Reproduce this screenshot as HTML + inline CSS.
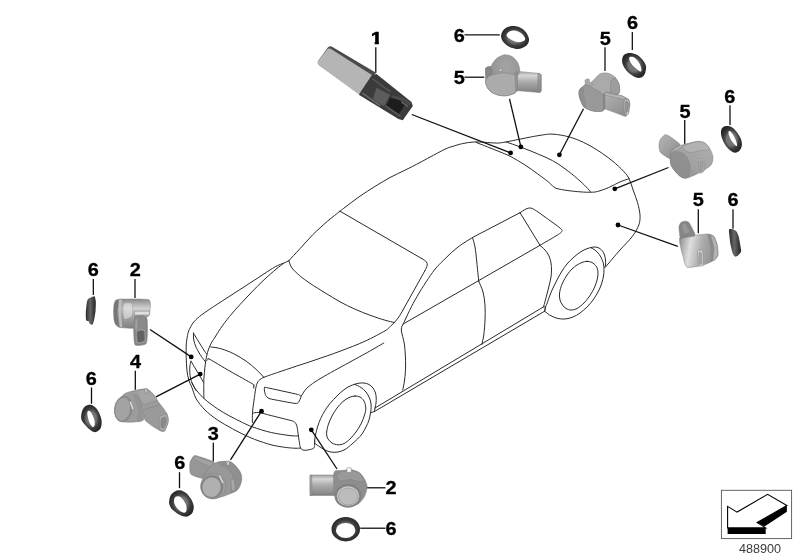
<!DOCTYPE html>
<html lang="en">
<head>
<meta charset="utf-8">
<title>Park Distance Control sensors - diagram 488900</title>
<style>
html,body{margin:0;padding:0;background:#fff;}
body{width:800px;height:560px;overflow:hidden;font-family:"Liberation Sans",sans-serif;}
svg{display:block;}
.car path,.car ellipse{fill:none;stroke:#2a2a2a;stroke-width:1;stroke-linecap:round;stroke-linejoin:round;}
.lead line{stroke:#111;stroke-width:1.3;stroke-linecap:butt;}
.lead circle{fill:#000;}
.num text{font-family:"Liberation Sans",sans-serif;font-weight:bold;font-size:18.6px;fill:#000;stroke:#000;stroke-width:0.3px;text-anchor:middle;}
.code{font-family:"Liberation Sans",sans-serif;font-size:12.6px;fill:#3a3a3a;text-anchor:middle;}
</style>
</head>
<body>
<svg width="800" height="560" viewBox="0 0 800 560">
<defs>
<clipPath id="c1"><path d="M-6 -16H2.1V1H-1.75V-8H-6Z"/></clipPath>
<filter id="softT" x="0" y="0" width="800" height="560" filterUnits="userSpaceOnUse"><feGaussianBlur stdDeviation="0.35"/></filter>
<filter id="softL" x="0" y="0" width="800" height="560" filterUnits="userSpaceOnUse"><feGaussianBlur stdDeviation="0.25"/></filter>
<filter id="soft" x="-10%" y="-10%" width="120%" height="120%"><feGaussianBlur stdDeviation="0.45"/></filter>
<filter id="soft2" x="-10%" y="-10%" width="120%" height="120%"><feGaussianBlur stdDeviation="0.55"/></filter>
<linearGradient id="gConnH" x1="0" y1="0" x2="0" y2="1"><stop offset="0" stop-color="#a0a0a0"/><stop offset="0.2" stop-color="#d6d6d6"/><stop offset="0.5" stop-color="#ababab"/><stop offset="0.85" stop-color="#8e8e8e"/><stop offset="1" stop-color="#7c7c7c"/></linearGradient>
<linearGradient id="gBodyH" x1="0" y1="0" x2="0" y2="1"><stop offset="0" stop-color="#8a8a8a"/><stop offset="0.12" stop-color="#a5a5a5"/><stop offset="0.32" stop-color="#d2d2d2"/><stop offset="0.6" stop-color="#a4a4a4"/><stop offset="1" stop-color="#808080"/></linearGradient>
<linearGradient id="gDiag" x1="0" y1="0" x2="1" y2="1"><stop offset="0" stop-color="#b4b4b4"/><stop offset="0.5" stop-color="#a0a0a0"/><stop offset="1" stop-color="#888"/></linearGradient>
<linearGradient id="gDiag2" x1="1" y1="0" x2="0" y2="1"><stop offset="0" stop-color="#b0b0b0"/><stop offset="0.55" stop-color="#a2a2a2"/><stop offset="1" stop-color="#858585"/></linearGradient>
<radialGradient id="gDome" cx="0.6" cy="0.3" r="0.75"><stop offset="0" stop-color="#a4a4a4"/><stop offset="1" stop-color="#8b8b8b"/></radialGradient>
<linearGradient id="g5d" x1="0" y1="0" x2="1" y2="0.15"><stop offset="0" stop-color="#7c7c7c"/><stop offset="0.1" stop-color="#a6a6a6"/><stop offset="0.32" stop-color="#dedede"/><stop offset="0.6" stop-color="#aeaeae"/><stop offset="0.85" stop-color="#999"/><stop offset="1" stop-color="#a5a5a5"/></linearGradient>
<radialGradient id="gRing" cx="0.5" cy="0.5" r="0.6"><stop offset="0.38" stop-color="#747474"/><stop offset="0.6" stop-color="#3e3e3e"/><stop offset="0.8" stop-color="#2b2b2b"/><stop offset="1" stop-color="#222"/></radialGradient>
<linearGradient id="gRingS" x1="0" y1="0" x2="1" y2="0"><stop offset="0" stop-color="#2c2c2c"/><stop offset="0.45" stop-color="#666"/><stop offset="0.8" stop-color="#3a3a3a"/><stop offset="1" stop-color="#2a2a2a"/></linearGradient>

</defs>
<rect width="800" height="560" fill="#fff"/>
<g class="car" filter="url(#softL)">
<path d="M288.8 260.7C290.6 258.7 296.0 253.0 300.0 248.7C304.0 244.4 307.9 239.6 312.5 235.0C317.1 230.4 322.9 225.2 327.5 221.2C332.1 217.3 337.1 213.6 340.0 211.2C342.9 208.9 341.7 209.8 345.0 207.3C348.3 204.8 355.0 199.7 360.0 196.2C365.0 192.7 370.0 189.5 375.0 186.4C380.0 183.3 385.0 180.2 390.0 177.5C395.0 174.8 400.0 172.7 405.0 170.2C410.0 167.7 415.8 164.7 420.0 162.5C424.2 160.3 425.8 159.3 430.0 157.1C434.2 154.9 441.3 150.9 445.0 149.2C448.7 147.4 449.1 147.5 452.0 146.6C454.9 145.7 458.7 144.4 462.5 143.6C466.3 142.8 470.8 142.1 475.0 141.9C479.2 141.7 483.8 142.3 487.5 142.5C491.2 142.7 494.4 143.2 497.5 143.1C500.6 143.0 502.7 142.5 506.2 141.9C509.8 141.3 514.6 140.2 518.8 139.4C522.9 138.6 527.1 137.7 531.2 136.9C535.4 136.1 540.6 135.2 543.8 134.8C546.9 134.3 547.5 134.1 550.0 134.1C552.5 134.1 555.2 134.2 558.8 134.8C562.3 135.3 567.1 136.2 571.2 137.5C575.4 138.8 579.6 140.5 583.8 142.5C587.9 144.5 592.1 146.8 596.2 149.4C600.4 152.0 604.6 154.9 608.8 158.1C612.9 161.3 617.9 165.4 621.2 168.8C624.6 172.1 626.8 174.6 628.8 178.1C630.7 181.6 631.6 185.9 633.1 190.0C634.6 194.1 636.4 198.3 637.5 202.5C638.6 206.7 639.8 211.2 640.0 215.0C640.2 218.8 640.0 221.5 638.8 225.0C637.5 228.5 635.6 232.1 632.5 236.2C629.4 240.4 624.5 244.9 620.0 250.0C615.5 255.1 607.9 264.2 605.5 267.0"/>
<path d="M476.2 142.5C478.1 143.2 483.5 145.3 487.5 146.9C491.5 148.5 496.2 150.3 500.0 151.9C503.8 153.5 505.8 154.1 510.0 156.2C514.2 158.4 520.4 162.1 525.0 165.0C529.6 167.9 533.8 171.0 537.5 173.8C541.2 176.5 544.8 179.1 547.5 181.2C550.2 183.4 551.9 185.6 553.8 186.9C555.6 188.2 555.8 188.3 558.8 189.0C561.7 189.7 567.1 190.5 571.2 191.0C575.4 191.5 580.5 191.9 583.8 192.1C587.0 192.3 588.3 192.3 590.6 192.2C592.9 192.2 594.5 192.3 597.5 191.5C600.5 190.7 605.0 189.1 608.8 187.5C612.5 185.9 616.6 183.4 620.0 181.9C623.4 180.4 627.5 179.3 629.0 178.8"/>
<path d="M506.2 142.1C507.7 142.6 511.9 143.9 515.0 145.0C518.1 146.1 521.2 147.3 525.0 148.8C528.8 150.2 532.9 151.8 537.5 153.8C542.1 155.7 547.9 158.1 552.5 160.6C557.1 163.1 560.8 165.7 565.0 168.8C569.2 171.8 574.0 175.7 577.5 178.8C581.0 181.8 584.1 184.7 586.2 186.9C588.4 189.1 589.9 191.2 590.6 192.0"/>
<path d="M340.0 211.2L423.0 259.3"/>
<path d="M423.0 259.3C423.6 259.8 425.8 261.0 426.5 262.0C427.2 263.0 427.4 264.1 427.2 265.5C426.9 266.9 425.4 269.7 425.0 270.5"/>
<path d="M425.0 270.5L403.0 310.0"/>
<path d="M288.8 260.7C289.3 261.9 290.2 265.5 292.0 268.0C293.8 270.5 296.5 272.9 299.5 275.5C302.5 278.1 305.8 280.4 310.0 283.3C314.2 286.2 320.0 289.7 325.0 292.8C330.0 295.8 335.0 299.0 340.0 301.8C345.0 304.5 350.0 307.0 355.0 309.2C360.0 311.5 365.0 313.4 370.0 315.2C375.0 317.1 380.9 319.0 385.0 320.2C389.1 321.4 392.8 322.1 394.3 322.5"/>
<path d="M403.0 310.0C402.3 311.2 400.2 314.9 398.8 317.0C397.4 319.1 396.0 320.7 394.5 322.3C393.0 323.9 391.6 325.4 390.0 326.8C388.4 328.2 389.2 328.4 385.0 330.8C380.8 333.2 372.5 337.8 365.0 341.2C357.5 344.7 348.3 348.1 340.0 351.2C331.7 354.4 322.3 357.5 315.0 360.0C307.7 362.5 302.5 364.2 296.2 366.2C290.0 368.3 282.9 370.7 277.5 372.5C272.1 374.3 266.0 376.5 263.8 377.3"/>
<path d="M403.2 324.0C405.2 320.0 410.1 308.6 415.0 300.0C419.9 291.4 427.5 279.4 432.5 272.5C437.5 265.6 440.8 263.0 445.0 258.8C449.2 254.5 453.4 250.5 458.0 247.0C462.6 243.5 470.1 239.1 472.5 237.5"/>
<path d="M472.5 237.5L520.0 212.7"/>
<path d="M520.0 212.7C521.0 212.1 524.3 209.8 526.0 209.0C527.7 208.2 528.6 207.9 530.0 208.0C531.4 208.1 532.0 208.2 534.5 209.7C537.0 211.2 540.8 213.9 545.0 217.0C549.2 220.1 557.2 225.6 560.0 228.0C562.8 230.4 562.2 230.1 561.8 231.3C561.4 232.5 561.1 232.7 557.5 235.0C553.9 237.3 542.9 243.6 540.0 245.3"/>
<path d="M403.2 324.0L540.0 245.3"/>
<path d="M472.5 237.5C472.9 239.1 474.3 242.9 475.0 247.0C475.7 251.1 476.2 256.2 476.8 262.0C477.4 267.8 478.4 278.3 478.8 281.6"/>
<path d="M520.0 212.7L540.0 245.3"/>
<path d="M403.2 324.0C402.9 325.0 401.1 326.5 401.3 330.0C401.5 333.5 403.8 339.2 404.5 345.0C405.2 350.8 405.6 359.2 405.6 365.0C405.6 370.8 405.1 375.8 404.6 380.0C404.1 384.2 403.0 388.3 402.7 390.0"/>
<path d="M478.8 281.6C479.5 283.3 482.0 288.1 483.0 292.0C484.0 295.9 484.7 300.3 485.0 305.0C485.3 309.7 485.2 315.0 485.0 320.0C484.8 325.0 484.3 330.9 483.8 335.0C483.2 339.1 482.2 342.9 481.9 344.5"/>
<path d="M539.7 245.2C540.6 246.0 543.5 248.2 545.0 250.0C546.5 251.8 548.0 253.8 549.0 256.0C550.0 258.2 550.6 260.7 551.0 263.0C551.4 265.3 551.5 267.7 551.5 270.0C551.5 272.3 551.4 274.3 551.0 277.0C550.6 279.7 549.7 283.2 549.0 286.0C548.3 288.8 547.7 291.4 547.0 294.0C546.3 296.6 545.6 299.4 545.0 301.5C544.4 303.6 543.8 305.9 543.6 306.8"/>
<path d="M375.0 408.0L543.6 306.8"/>
<path d="M374.5 411.5L544.6 311.2"/>
<path d="M375.0 408.0L374.5 411.5"/>
<path d="M543.6 306.8L545.6 307.0L544.6 311.2"/>
<path d="M383.8 343.0C380.6 344.8 372.3 349.7 365.0 353.8C357.7 357.8 346.2 364.1 340.0 367.5C333.8 370.9 331.7 372.0 327.5 374.4C323.3 376.8 318.5 379.5 315.0 381.9C311.5 384.3 308.5 386.4 306.2 388.8C304.0 391.1 302.1 395.0 301.2 396.2"/>
<path d="M288.8 260.7C287.9 261.1 285.4 262.4 283.5 263.2C281.6 264.0 279.8 264.5 277.5 265.6C275.2 266.7 273.8 267.6 270.0 270.0C266.2 272.4 260.0 276.5 255.0 279.8C250.0 283.0 245.0 286.2 240.0 289.5C235.0 292.8 230.0 296.0 225.0 299.2C220.0 302.5 214.2 306.1 210.0 309.0C205.8 311.9 202.3 314.2 199.5 316.5C196.7 318.8 194.7 320.8 193.0 323.0C191.3 325.2 190.2 327.4 189.3 329.5C188.4 331.6 188.0 332.9 187.5 335.5C187.0 338.1 186.5 341.3 186.2 345.0C186.0 348.7 186.1 353.3 186.2 357.5C186.4 361.7 186.5 366.2 186.9 370.0C187.3 373.8 187.9 377.1 188.8 380.0C189.6 382.9 190.7 384.4 191.9 387.5C193.2 390.6 194.1 395.0 196.2 398.8C198.4 402.5 201.5 406.5 205.0 410.0C208.5 413.5 212.9 416.9 217.5 420.0C222.1 423.1 227.1 425.8 232.5 428.8C237.9 431.7 244.2 435.0 250.0 437.5C255.8 440.0 262.5 442.2 267.5 443.8C272.5 445.3 275.8 445.9 280.0 446.6C284.2 447.3 289.1 447.9 292.5 448.1C295.9 448.4 299.2 448.1 300.6 448.1"/>
<path d="M283.5 263.5C282.2 264.5 279.2 266.5 276.0 269.2C272.8 272.0 268.0 276.0 264.0 279.8C260.0 283.5 256.0 287.6 252.0 291.8C248.0 295.9 243.8 300.4 240.0 304.5C236.2 308.6 232.8 312.5 229.5 316.5C226.2 320.5 223.0 324.9 220.5 328.5C218.0 332.1 216.1 335.5 214.5 338.0C212.9 340.5 212.2 341.1 211.0 343.5C209.8 345.9 208.4 349.4 207.5 352.5C206.6 355.6 206.1 358.6 205.6 361.9C205.1 365.2 204.7 369.1 204.4 372.5C204.1 375.9 203.8 378.2 203.8 382.5C203.7 386.8 203.9 395.5 203.9 398.1"/>
<path d="M210.6 346.9C212.4 347.2 217.4 347.6 221.2 348.8C225.1 349.9 229.6 351.7 233.8 353.8C237.9 355.8 242.5 358.6 246.2 361.2C250.0 363.9 253.3 366.7 256.2 369.4C259.2 372.1 262.5 376.0 263.8 377.3"/>
<path d="M206.8 360.3C207.1 360.1 207.8 359.5 208.3 359.3C208.8 359.1 206.4 357.4 210.0 359.4C213.6 361.4 222.9 367.2 230.0 371.2C237.1 375.3 248.6 381.5 252.5 383.9C256.4 386.3 253.4 384.8 253.6 385.5C253.8 386.2 253.7 387.8 253.8 388.2"/>
<path d="M263.8 377.3C262.9 377.9 260.0 379.1 258.8 380.6C257.5 382.1 257.0 383.4 256.2 386.2C255.5 389.1 255.0 393.1 254.4 397.5C253.8 401.9 252.8 408.3 252.5 412.5C252.2 416.7 252.4 420.8 252.4 422.5"/>
<path d="M264.6 387.6C264.8 387.4 263.2 386.9 266.5 387.6C269.8 388.3 294.1 393.5 297.5 394.4C300.9 395.3 300.8 396.1 300.9 396.9C301.0 397.6 299.3 401.2 298.8 401.9C298.2 402.5 297.9 403.7 295.0 403.4C292.1 403.1 272.9 399.5 270.0 398.8C267.1 398.0 266.4 396.4 265.8 395.5C265.2 394.6 264.4 390.8 264.3 390.0C264.2 389.2 264.4 387.8 264.6 387.6Z"/>
<path d="M193.5 333.1C194.4 334.6 197.0 339.1 198.8 341.9C200.5 344.7 202.5 348.0 203.8 350.0C205.0 352.0 206.0 353.1 206.5 353.8"/>
<path d="M193.5 333.1C193.5 334.2 193.3 337.6 193.8 340.0C194.2 342.4 195.0 344.8 196.2 347.5C197.5 350.2 199.7 353.9 201.2 356.2C202.8 358.6 204.9 361.0 205.6 361.9"/>
<path d="M191.0 361.2C191.9 362.7 194.8 367.5 196.2 370.0C197.8 372.5 198.8 374.2 200.0 376.2C201.2 378.3 202.8 381.2 203.4 382.2"/>
<path d="M191.0 361.2C190.8 362.0 190.1 364.1 189.9 366.0C189.7 367.9 189.6 370.4 189.8 372.5C189.9 374.6 190.1 376.8 190.6 378.8C191.1 380.7 191.6 382.0 192.5 384.0C193.4 386.0 195.4 389.4 196.0 390.5"/>
<path d="M191.9 382.5C192.6 383.8 194.1 387.2 196.2 390.0C198.4 392.8 201.5 396.3 205.0 399.4C208.5 402.5 213.3 405.9 217.5 408.8C221.7 411.6 225.8 414.0 230.0 416.2C234.2 418.5 238.8 420.7 242.5 422.5C246.2 424.3 247.7 425.2 252.5 426.9C257.3 428.6 265.0 431.1 271.2 432.5C277.5 433.9 285.5 435.0 290.0 435.6C294.5 436.2 296.9 435.8 298.3 435.9"/>
<path d="M252.5 413.2C253.5 413.1 255.6 412.1 258.8 412.5C261.9 412.9 265.8 414.2 271.2 415.6C276.7 417.0 287.3 419.5 291.2 420.6C295.2 421.8 294.1 421.6 295.0 422.5C295.9 423.4 296.4 424.4 296.9 426.2C297.4 428.1 297.7 431.0 298.1 433.8C298.5 436.5 299.0 440.1 299.4 442.5C299.8 444.9 299.9 446.8 300.6 448.1C301.3 449.4 302.4 449.9 303.8 450.2C305.1 450.5 307.1 450.1 308.8 449.8C310.4 449.5 312.8 449.0 313.8 448.1C314.7 447.2 314.4 445.7 314.6 444.5C314.8 443.3 314.7 441.6 314.8 441.0"/>
<path d="M314.5 444.0C314.5 443.3 314.5 441.7 314.7 440.0C314.9 438.3 315.2 436.2 315.7 434.0C316.2 431.8 316.7 429.6 317.5 427.0C318.3 424.4 319.4 421.2 320.7 418.5C321.9 415.8 323.4 413.0 325.0 410.5C326.6 408.0 328.0 405.9 330.0 403.5C332.0 401.1 334.8 398.2 337.0 396.0C339.2 393.8 341.0 392.1 343.0 390.5C345.0 388.9 347.0 387.6 349.0 386.5C351.0 385.4 353.3 384.8 355.0 384.2C356.7 383.6 357.5 383.4 359.0 383.2C360.5 383.0 362.3 382.8 364.0 383.0C365.7 383.2 367.5 383.7 369.0 384.5C370.5 385.3 371.9 386.6 373.0 388.0C374.1 389.4 375.0 391.3 375.5 393.0C376.0 394.7 376.1 396.3 376.2 398.0C376.3 399.7 376.2 401.3 376.0 403.0C375.8 404.7 375.2 407.2 375.0 408.0"/>
<path d="M355.0 384.4C356.0 384.9 359.2 386.2 361.0 387.5C362.8 388.8 364.6 390.2 366.0 392.0C367.4 393.8 368.7 396.0 369.5 398.0C370.3 400.0 370.8 402.0 371.0 404.0C371.2 406.0 371.1 408.3 371.0 410.0C370.9 411.7 370.6 412.3 370.3 414.0C370.0 415.7 369.7 417.8 369.0 420.0C368.3 422.2 367.2 424.7 366.0 427.0C364.8 429.3 363.4 432.0 362.0 434.0C360.6 436.0 359.2 437.3 357.5 439.0C355.8 440.7 354.1 442.2 352.0 444.0C349.9 445.8 347.3 448.2 345.0 449.5C342.7 450.8 340.2 451.6 338.0 452.0C335.8 452.4 334.0 452.4 332.0 452.2C330.0 451.9 328.0 451.4 326.0 450.5C324.0 449.6 321.8 448.2 320.0 447.0C318.2 445.8 315.8 444.1 315.0 443.5"/>
<path d="M355.0 396.0C353.2 396.1 351.0 396.6 349.0 397.5C347.0 398.4 345.0 399.8 343.0 401.5C341.0 403.2 338.8 405.6 337.0 408.0C335.2 410.4 333.4 413.3 332.0 416.0C330.6 418.7 329.4 421.5 328.5 424.0C327.6 426.5 327.1 429.2 326.8 431.0C326.5 432.8 326.5 433.7 326.7 435.0C326.9 436.3 327.1 437.7 328.0 439.0C328.9 440.3 330.3 442.0 332.0 443.0C333.7 444.0 336.0 444.7 338.0 444.8C340.0 444.9 342.0 444.5 344.0 443.5C346.0 442.5 348.0 440.9 350.0 439.0C352.0 437.1 354.2 434.5 356.0 432.0C357.8 429.5 359.6 426.8 361.0 424.0C362.4 421.2 363.7 417.7 364.5 415.0C365.3 412.3 365.9 410.3 365.8 408.0C365.7 405.7 365.0 402.8 364.0 401.0C363.0 399.2 361.5 397.8 360.0 397.0C358.5 396.2 356.8 395.9 355.0 396.0Z"/>
<path d="M371.0 412.7L374.5 411.5"/>
<path d="M544.6 311.2C544.8 310.5 545.2 308.4 545.6 307.0C546.0 305.6 546.5 305.0 547.2 303.0C547.9 301.0 549.0 297.7 550.0 295.0C551.0 292.3 552.2 289.7 553.5 287.0C554.8 284.3 556.1 281.7 557.5 279.0C558.9 276.3 560.4 273.5 562.0 271.0C563.6 268.5 565.2 266.2 567.0 264.0C568.8 261.8 571.0 259.8 573.0 258.0C575.0 256.2 577.0 254.4 579.0 253.0C581.0 251.6 583.0 250.4 585.0 249.5C587.0 248.6 589.3 247.9 591.0 247.5C592.7 247.1 593.7 246.9 595.0 247.0C596.3 247.1 597.8 247.3 599.0 248.0C600.2 248.7 601.6 249.8 602.5 251.0C603.4 252.2 604.0 253.5 604.5 255.0C605.0 256.5 605.3 258.3 605.5 260.0C605.7 261.7 605.6 263.8 605.5 265.0C605.4 266.2 604.9 267.1 604.8 267.5"/>
<path d="M591.0 247.8C591.7 248.2 593.6 248.9 595.0 250.0C596.4 251.1 598.1 252.9 599.3 254.5C600.5 256.1 601.3 257.9 602.0 259.5C602.7 261.1 603.2 262.3 603.5 264.0C603.8 265.7 604.0 267.5 604.0 269.5C604.0 271.5 603.9 273.6 603.5 276.0C603.1 278.4 602.4 281.3 601.5 284.0C600.6 286.7 599.4 289.3 598.0 292.0C596.6 294.7 594.8 297.5 593.0 300.0C591.2 302.5 589.2 304.8 587.0 307.0C584.8 309.2 582.3 311.3 580.0 313.0C577.7 314.7 575.5 316.0 573.0 317.0C570.5 318.0 567.5 318.8 565.0 319.0C562.5 319.2 560.2 318.9 558.0 318.5C555.8 318.1 553.8 317.1 552.0 316.3C550.2 315.5 548.7 314.4 547.5 313.5C546.3 312.6 545.1 311.6 544.6 311.2"/>
<path d="M587.0 261.3C585.3 261.3 583.7 261.9 582.0 262.5C580.3 263.1 578.7 263.9 577.0 265.0C575.3 266.1 573.7 267.3 572.0 269.0C570.3 270.7 568.5 272.8 567.0 275.0C565.5 277.2 564.1 279.8 563.0 282.0C561.9 284.2 561.1 286.5 560.5 288.5C559.9 290.5 559.6 292.1 559.5 294.0C559.4 295.9 559.5 298.2 560.0 300.0C560.5 301.8 561.5 303.6 562.5 305.0C563.5 306.4 564.6 307.7 566.0 308.5C567.4 309.3 569.2 310.0 571.0 310.0C572.8 310.0 574.8 309.7 577.0 308.5C579.2 307.3 581.8 305.2 584.0 303.0C586.2 300.8 588.2 298.2 590.0 295.5C591.8 292.8 593.5 289.8 594.7 287.0C595.9 284.2 596.8 281.3 597.3 279.0C597.8 276.7 598.0 274.8 598.0 273.0C598.0 271.2 597.7 269.8 597.3 268.5C596.9 267.2 596.4 266.3 595.5 265.3C594.6 264.3 593.4 263.2 592.0 262.5C590.6 261.8 588.7 261.3 587.0 261.3Z"/>
</g>
<g class="parts">
<g filter="url(#soft)">
<path d="M332.5 47.0L376.0 72.8L360.2 94.2L320.2 65.9Q316.9 63.5 318.1 61.1L327.4 47.9Q329.2 45.2 332.5 47.0Z" fill="#4c4c4c"/>
<path d="M369.8 76.0L376.5 74.0L411.5 101.9L412.8 106.0L402.8 120.2L398.5 119.0L358.8 94.8Z" fill="#3b3b3b"/>
<path d="M332.2 49.7L371.9 74.9L358.9 94.4L319.9 65.9Q316.6 63.5 317.8 61.4L326.8 49.7Q328.6 47.3 332.2 49.7Z" fill="#b5b5b5"/>
<path d="M371.9 79.0L372.8 78.2L391.0 91.5L390.2 92.8Z" fill="#5a5a5a"/>
<path d="M361.9 93.5L362.8 92.5L380.6 105.0L379.8 106.2Z" fill="#6e6e6e"/>
<path d="M376.5 87.8L390.2 94.8L384.0 106.5L372.8 99.0Z" fill="#5c5c5c"/>
<path d="M390.0 97.5L398.8 99.8L405.0 104.0L399.0 114.0L386.5 105.2Z" fill="#1f1f1f"/>
<path d="M385.0 106.5L385.8 105.5L401.0 115.8L400.2 116.9Z" fill="#5e5e5e"/>
<path d="M401.0 102.5L401.8 101.6L408.5 106.0L407.8 107.0Z" fill="#6a6a6a"/>
<path d="M392.5 95.2L402.5 97.5L411.0 103.1L409.5 105.2L402.5 101.2L391.2 97.5Z" fill="#4c4c4c"/>
</g>
<g filter="url(#soft)" stroke="#7c7c7c" stroke-width="0.5" stroke-linejoin="round">
<path d="M515.5 71.2L539.8 73.4L541.2 74.8L541.2 91.2L539.8 92.5L515.5 90.5Z" fill="url(#gConnH)"/>
<path d="M537.8 73.6L539.8 73.4L541.2 74.8L541.2 91.2L539.8 92.5L537.8 92.2Z" fill="#8c8c8c" opacity="0.75"/>
<path d="M485.8 68.0C486.5 66.7 489.9 67.3 490.8 66.6C491.7 65.9 491.9 64.2 492.8 63.0C493.7 61.8 495.9 58.9 497.5 57.8C499.1 56.7 503.0 54.9 505.0 54.8C507.0 54.7 510.8 55.7 512.5 56.8C514.2 57.9 516.8 61.0 517.8 62.8C518.8 64.6 519.7 68.6 519.8 70.0C519.9 71.4 519.2 72.4 518.8 73.5C518.4 74.6 517.2 75.8 517.0 78.0C516.8 80.2 517.4 87.9 517.0 90.0C516.6 92.1 515.5 92.7 514.0 93.5C512.5 94.3 508.0 95.6 506.0 95.8C504.0 96.0 500.9 95.7 499.0 95.3C497.1 94.9 493.5 93.6 492.0 92.6C490.5 91.6 488.4 89.4 487.5 88.0C486.6 86.6 485.8 83.6 485.6 82.0C485.4 80.4 485.8 77.9 485.8 76.0C485.8 74.1 485.1 69.3 485.8 68.0Z" fill="url(#gDome)"/>
<path d="M485.8 68.0C486.3 66.9 490.2 66.2 490.8 66.6C491.4 67.0 492.3 71.0 492.2 72.0C492.1 73.0 490.6 75.9 490.0 76.5C489.4 77.1 486.6 78.8 486.2 78.0C485.8 77.2 485.3 69.1 485.8 68.0Z" fill="#878787"/>
<path d="M486.0 79.8C486.6 78.8 488.0 76.7 490.0 75.8C492.0 74.9 498.2 73.3 501.0 73.0C503.8 72.7 508.9 73.3 511.0 73.8C513.1 74.3 515.8 74.8 516.6 77.0C517.4 79.2 517.3 87.8 517.0 90.0C516.7 92.2 515.5 92.7 514.0 93.5C512.5 94.3 508.0 95.6 506.0 95.8C504.0 96.0 500.9 95.7 499.0 95.3C497.1 94.9 493.5 93.6 492.0 92.6C490.5 91.6 488.4 89.3 487.5 88.0C486.6 86.7 485.8 84.1 485.6 83.0C485.4 81.9 485.4 80.8 486.0 79.8Z" fill="#ababab"/>
<path d="M515.0 72.0L517.2 71.8L517.4 90.0L515.4 91.2Z" fill="#909090" opacity="0.8"/>
<path d="M499.0 68.5L502.2 68.5L502.2 71.5L499.0 71.5Z" fill="#c4c4c4"/>
</g>
<g filter="url(#soft)" stroke="#7c7c7c" stroke-width="0.5" stroke-linejoin="round">
<path d="M600.0 86.0L617.0 86.0L618.0 95.0L600.0 96.0Z" fill="#a2a2a2"/>
<path d="M600.0 90.5L622.0 95.8L628.8 99.3L630.0 104.0L628.6 113.0L625.6 116.6L600.0 107.0Z" fill="url(#gDiag)"/>
<path d="M604.0 92.2L622.0 95.8L626.0 97.8L624.0 99.5L604.5 95.0Z" fill="#b8b8b8" opacity="0.8"/>
<path d="M624.5 99.5C625.0 98.7 628.0 99.5 628.5 100.0C629.0 100.5 629.6 103.0 629.6 104.2C629.6 105.4 628.6 111.1 628.2 112.2C627.8 113.3 626.2 115.9 625.8 115.5C625.4 115.1 624.1 109.6 624.0 108.0C623.9 106.4 624.0 100.3 624.5 99.5Z" fill="#bdbdbd"/>
<path d="M625.6 101.5C625.9 100.9 627.7 101.9 628.0 102.2C628.3 102.5 628.6 104.1 628.6 105.0C628.6 105.9 627.8 110.2 627.6 111.0C627.4 111.8 626.4 113.3 626.2 113.0C626.0 112.7 625.3 109.2 625.2 108.0C625.1 106.8 625.3 102.1 625.6 101.5Z" fill="#959595"/>
<path d="M627.0 111.5L629.0 111.0L628.5 114.0L626.8 115.0Z" fill="#e6e6e6"/>
<path d="M579.5 90.0C580.1 88.6 584.3 86.2 585.0 85.0C585.7 83.8 584.7 80.7 585.2 80.0C585.7 79.3 588.4 78.7 589.0 79.0C589.6 79.3 589.2 83.6 590.5 83.0C591.8 82.4 598.0 74.9 600.0 73.8C602.0 72.7 606.2 72.8 608.0 73.2C609.8 73.6 613.7 75.7 615.0 77.0C616.3 78.3 618.5 82.5 619.0 84.0C619.5 85.5 619.8 88.9 619.7 90.0C619.6 91.1 619.8 93.5 618.0 93.8C616.2 94.1 606.2 90.9 604.5 92.8C602.8 94.7 605.0 107.9 603.8 110.0C602.6 112.1 596.3 111.5 594.0 111.2C591.7 110.9 585.7 108.7 584.0 107.0C582.3 105.3 580.0 99.0 579.5 97.0C579.0 95.0 578.9 91.4 579.5 90.0Z" fill="#aaaaaa"/>
<path d="M611.0 81.0C611.5 79.2 614.1 77.7 615.0 78.0C615.9 78.3 618.5 82.6 619.0 84.0C619.5 85.4 619.8 88.9 619.7 90.0C619.6 91.1 619.0 93.5 618.0 93.8C617.0 94.1 611.8 94.5 611.0 93.0C610.2 91.5 610.5 82.8 611.0 81.0Z" fill="#9d9d9d"/>
<path d="M579.5 90.0C580.4 88.4 583.9 84.8 586.0 84.7C588.1 84.6 592.7 87.8 595.0 89.2C597.3 90.6 602.3 92.6 603.5 95.4C604.7 98.2 605.1 107.9 603.8 110.0C602.5 112.1 596.6 111.6 594.0 111.2C591.4 110.8 585.9 108.9 584.0 107.0C582.1 105.1 580.1 99.3 579.5 97.0C578.9 94.7 578.6 91.6 579.5 90.0Z" fill="#999"/>
<path d="M579.5 90.0C580.0 88.7 582.4 86.7 583.0 87.5C583.6 88.3 583.6 93.5 584.0 96.0C584.4 98.5 586.0 104.5 586.0 106.0C586.0 107.5 584.9 108.2 584.0 107.0C583.1 105.8 580.1 99.3 579.5 97.0C578.9 94.7 579.0 91.3 579.5 90.0Z" fill="#8c8c8c" opacity="0.7"/>
<path d="M603.2 94.5L604.8 93.5L605.0 108.5L603.4 110.0Z" fill="#828282" opacity="0.8"/>
<path d="M590.5 82.5L592.5 82.0L593.5 84.5L591.5 85.0Z" fill="#bdbdbd"/>
</g>
<g filter="url(#soft)" stroke="#7c7c7c" stroke-width="0.5" stroke-linejoin="round">
<path d="M660.0 140.0C660.5 138.9 663.7 135.4 664.5 135.0C665.3 134.6 666.7 134.6 668.2 135.5C669.8 136.4 679.4 142.9 680.0 144.5C680.6 146.1 675.0 149.6 674.0 151.0C673.0 152.4 671.4 158.3 670.0 158.5C668.6 158.7 661.6 153.8 660.5 152.5C659.4 151.2 659.0 146.8 659.0 145.5C659.0 144.2 659.5 141.1 660.0 140.0Z" fill="url(#gDiag)"/>
<path d="M670.8 151.2C672.0 148.6 676.5 147.1 680.0 145.8C683.5 144.5 693.7 141.7 697.0 141.3C700.3 140.9 703.3 142.0 705.0 143.0C706.7 144.0 708.9 147.1 710.0 149.0C711.1 150.9 712.9 154.9 713.0 157.0C713.1 159.1 712.6 163.0 711.0 165.0C709.4 167.0 704.2 170.3 701.0 172.0C697.8 173.7 689.8 177.4 687.0 178.0C684.2 178.6 682.1 177.9 680.0 176.2C677.9 174.5 672.4 168.8 671.2 165.5C670.0 162.2 669.6 153.8 670.8 151.2Z" fill="url(#gDiag2)"/>
<path d="M683.0 146.5C684.1 145.1 694.1 142.2 697.0 141.8C699.9 141.4 703.3 142.5 705.0 143.5C706.7 144.5 710.0 148.6 709.5 149.5C709.0 150.4 703.7 150.1 701.0 150.5C698.3 150.9 691.4 153.0 689.0 152.5C686.6 152.0 681.9 147.9 683.0 146.5Z" fill="#b6b6b6" opacity="0.75"/>
<path d="M671.2 154.0C672.1 152.2 676.2 151.7 678.0 151.8C679.8 151.9 683.5 153.5 685.0 155.0C686.5 156.5 688.9 160.7 689.5 163.0C690.1 165.3 689.8 170.0 689.5 172.0C689.2 174.0 688.3 177.2 687.0 177.8C685.7 178.4 682.1 177.8 680.0 176.2C677.9 174.6 672.4 168.5 671.2 165.5C670.0 162.5 670.3 155.8 671.2 154.0Z" fill="#8f8f8f" opacity="0.85"/>
<path d="M673.0 149.5L681.0 145.0L682.2 146.5L674.2 151.2Z" fill="#c2c2c2" opacity="0.8"/>
<path d="M699.0 159.0C699.3 157.9 703.1 159.0 703.5 160.0C703.9 161.0 704.3 169.9 704.0 171.0C703.7 172.1 700.2 173.8 699.8 172.8C699.4 171.8 698.7 160.1 699.0 159.0Z" fill="#bcbcbc"/>
<path d="M700.2 161.0C700.4 160.2 702.2 160.8 702.4 161.5C702.6 162.2 702.9 169.2 702.8 170.0C702.6 170.8 700.8 171.9 700.6 171.2C700.4 170.4 700.1 161.8 700.2 161.0Z" fill="#a2a2a2"/>
</g>
<g filter="url(#soft)" stroke="#7c7c7c" stroke-width="0.5" stroke-linejoin="round">
<path d="M679.0 226.5C679.2 225.3 680.3 223.1 681.0 222.5C681.7 221.9 684.1 221.2 685.0 221.2C685.9 221.2 688.0 221.2 689.0 222.5C690.0 223.8 693.4 230.5 694.0 232.0C694.6 233.5 695.7 234.9 694.2 235.5C692.7 236.1 682.7 237.5 681.0 237.2C679.3 236.9 679.7 234.2 679.5 233.0C679.3 231.8 678.8 227.7 679.0 226.5Z" fill="#868686"/>
<path d="M681.5 226.0C681.4 224.8 683.0 223.7 683.5 223.5C684.0 223.3 685.4 223.0 686.2 224.0C687.0 225.0 690.3 230.8 690.0 232.0C689.7 233.2 685.0 234.7 684.0 234.0C683.0 233.3 681.6 227.2 681.5 226.0Z" fill="#9a9a9a" opacity="0.8"/>
<path d="M680.0 237.8C681.3 236.7 691.2 235.9 694.0 235.5C696.8 235.1 706.0 233.9 708.0 234.0C710.0 234.1 713.1 235.4 714.0 236.5C714.9 237.6 716.8 243.2 717.2 245.0C717.6 246.8 718.3 253.5 718.0 255.0C717.7 256.5 716.0 259.0 714.5 260.0C713.0 261.0 705.8 264.5 703.0 265.2C700.2 265.9 689.0 268.0 687.0 267.2C685.0 266.4 683.8 259.0 683.2 257.0C682.6 255.0 680.9 248.9 680.6 247.0C680.3 245.1 678.7 239.0 680.0 237.8Z" fill="url(#g5d)"/>
<path d="M708.0 234.5L710.0 235.0L713.5 248.0L712.5 260.5L710.5 261.5L711.2 248.0Z" fill="#8a8a8a" opacity="0.8"/>
<path d="M710.5 235.0L714.0 236.5L717.2 245.0L718.0 255.0L714.5 260.0L712.8 260.5L714.0 248.0Z" fill="#b4b4b4" opacity="0.9"/>
<path d="M679.6 237.2L694.5 235.0L694.7 236.2L680.0 238.8Z" fill="#808080" opacity="0.7"/>
<path d="M697.5 251.2C697.8 250.0 702.3 249.8 702.8 251.0C703.3 252.2 703.5 263.8 703.2 265.0C702.9 266.2 700.0 266.6 699.5 265.5C699.0 264.4 697.2 252.4 697.5 251.2Z" fill="#d6d6d6"/>
<path d="M699.0 253.0C699.1 252.1 701.3 252.1 701.5 253.0C701.7 253.9 701.9 262.6 701.8 263.5C701.7 264.4 700.0 264.7 699.8 263.8C699.6 262.9 698.9 253.9 699.0 253.0Z" fill="#a9a9a9"/>
</g>
<g filter="url(#soft)" stroke="#7c7c7c" stroke-width="0.5" stroke-linejoin="round">
<path d="M134.5 315.0C135.6 314.4 143.2 313.5 144.5 314.0C145.8 314.5 146.9 317.9 147.2 320.0C147.5 322.1 147.5 332.6 147.4 335.0C147.3 337.4 147.0 343.0 145.8 344.0C144.6 345.0 136.4 346.0 135.2 345.0C134.0 344.0 133.9 336.5 133.8 334.0C133.7 331.5 133.7 321.9 133.8 320.0C133.9 318.1 133.4 315.6 134.5 315.0Z" fill="#858585"/>
<path d="M115.0 301.0C115.5 299.9 117.2 299.3 120.0 299.2C122.8 299.1 146.5 298.7 149.0 299.8C151.5 300.9 149.8 311.6 149.7 313.0C149.6 314.4 149.5 315.4 148.2 316.2C146.9 317.0 135.8 322.0 134.5 323.0C133.2 324.0 134.5 327.8 133.2 328.2C131.9 328.6 120.5 327.6 119.0 327.2C117.5 326.8 115.4 324.8 115.0 323.5C114.6 322.2 113.8 313.9 113.8 312.0C113.8 310.1 114.5 302.1 115.0 301.0Z" fill="url(#gBodyH)"/>
<path d="M114.0 305.0C114.3 302.9 116.0 301.3 116.5 300.8C117.0 300.3 118.4 299.4 118.5 300.8C118.6 302.2 117.5 310.2 117.5 313.0C117.5 315.8 118.7 323.2 118.5 324.5C118.3 325.8 116.5 324.6 116.0 324.0C115.5 323.4 114.2 321.2 114.0 319.0C113.8 316.8 113.7 307.1 114.0 305.0Z" fill="#767676"/>
<path d="M118.8 300.5C119.3 299.0 121.9 298.3 122.2 299.8C122.5 301.3 121.5 309.9 121.5 313.0C121.5 316.1 122.7 325.2 122.5 326.8C122.3 328.4 120.0 328.1 119.5 326.5C119.0 324.9 118.4 316.0 118.3 313.0C118.2 310.0 118.3 302.0 118.8 300.5Z" fill="#c4c4c4" opacity="0.85"/>
<path d="M123.5 304.0C124.4 302.2 131.0 302.1 132.0 303.5C133.0 304.9 133.1 314.2 132.2 316.0C131.3 317.8 125.0 320.4 124.0 319.0C123.0 317.6 122.6 305.8 123.5 304.0Z" fill="#e2e2e2" opacity="0.6"/>
<path d="M134.5 311.2L149.5 311.2L149.5 315.0L134.5 315.0Z" fill="#e4e4e4" opacity="0.9"/>
<path d="M135.2 316.2C136.1 315.8 142.9 315.2 144.0 315.7C145.1 316.2 146.0 319.5 146.2 321.0C146.4 322.5 147.4 330.0 146.2 331.0C145.0 332.0 135.7 332.1 134.5 331.0C133.3 329.9 134.4 321.5 134.5 320.0C134.6 318.5 134.2 316.6 135.2 316.2Z" fill="#8a8a8a"/>
<path d="M135.0 320.0C135.2 318.8 137.2 317.9 137.5 319.0C137.8 320.1 138.2 329.8 138.0 331.0C137.8 332.2 135.3 332.6 135.0 331.5C134.7 330.4 134.8 321.2 135.0 320.0Z" fill="#a8a8a8" opacity="0.8"/>
<path d="M135.8 330.0C136.7 328.6 144.0 328.2 145.0 329.4C146.0 330.6 146.7 340.6 145.8 342.0C144.9 343.4 137.4 344.7 136.4 343.5C135.4 342.3 134.9 331.4 135.8 330.0Z" fill="#9c9c9c"/>
<path d="M137.2 331.5C137.8 330.4 143.1 330.1 143.8 331.0C144.5 331.9 145.0 339.4 144.4 340.5C143.8 341.6 138.5 342.9 137.8 342.0C137.1 341.1 136.6 332.6 137.2 331.5Z" fill="#626262"/>
</g>
<g filter="url(#soft)" stroke="#7c7c7c" stroke-width="0.5" stroke-linejoin="round">
<path d="M144.0 404.0C145.1 402.0 153.7 399.0 156.0 400.0C158.3 401.0 166.0 411.8 167.2 414.0C168.4 416.2 168.5 420.3 168.2 422.0C167.9 423.7 165.4 430.4 164.5 431.2C163.6 432.0 160.9 431.3 159.0 430.2C157.1 429.1 146.5 422.6 145.0 420.0C143.5 417.4 142.9 406.0 144.0 404.0Z" fill="#9a9a9a"/>
<path d="M160.0 416.5C160.7 415.6 165.7 413.9 166.5 414.5C167.3 415.1 168.2 420.4 168.0 422.0C167.8 423.6 165.3 429.8 164.5 430.5C163.7 431.2 160.5 430.2 160.0 429.5C159.5 428.8 159.2 424.3 159.2 423.0C159.2 421.7 159.3 417.4 160.0 416.5Z" fill="#b0b0b0"/>
<path d="M161.5 418.0C162.0 417.4 165.0 416.6 165.5 417.0C166.0 417.4 166.6 420.9 166.4 422.0C166.2 423.1 164.5 427.4 164.0 428.0C163.5 428.6 161.5 428.0 161.2 427.5C160.9 427.0 160.8 423.9 160.8 423.0C160.8 422.1 161.0 418.6 161.5 418.0Z" fill="#8a8a8a"/>
<path d="M123.0 395.0C125.9 391.5 141.6 389.1 145.0 388.8C148.4 388.5 150.6 391.5 152.0 392.8C153.4 394.1 156.5 398.6 157.2 400.0C157.9 401.4 159.5 403.8 158.0 405.0C156.5 406.2 145.7 408.2 144.0 410.0C142.3 411.8 144.9 418.8 143.2 420.2C141.4 421.6 131.7 422.3 129.0 422.2C126.3 422.1 120.7 422.4 120.0 419.2C119.3 416.0 120.1 398.5 123.0 395.0Z" fill="#9c9c9c"/>
<path d="M133.0 392.5C133.6 391.2 142.8 389.1 145.0 389.2C147.2 389.3 150.6 391.7 152.0 393.0C153.4 394.3 157.2 398.9 157.0 400.0C156.8 401.1 151.5 401.9 150.0 402.5C148.5 403.1 145.2 405.3 144.0 405.0C142.8 404.7 141.3 401.5 140.0 400.0C138.7 398.5 132.4 393.8 133.0 392.5Z" fill="#a8a8a8" opacity="0.8"/>
<path d="M144.0 389.5L147.0 388.5L148.0 392.5L145.0 393.5Z" fill="#bababa"/>
<path d="M134.0 395.0C134.0 393.1 137.5 392.2 138.5 394.0C139.5 395.8 142.1 406.9 142.5 410.0C142.9 413.1 142.6 419.2 142.0 420.5C141.4 421.8 137.9 422.7 137.5 421.5C137.1 420.3 138.9 413.1 138.5 410.0C138.1 406.9 134.0 396.9 134.0 395.0Z" fill="#8c8c8c" opacity="0.45"/>
<ellipse cx="123.2" cy="409.0" rx="8.8" ry="13.0" transform="rotate(8.0 123.2 409.0)" fill="#8e8e8e"/>
<ellipse cx="122.8" cy="409.2" rx="7.8" ry="12.0" transform="rotate(8.0 122.8 409.2)" fill="#a3a3a3"/>
<path d="M129.2 401.5L131.2 401.2L134.0 409.5L132.2 410.0Z" fill="#e8e8e8"/>
</g>
<g filter="url(#soft)" stroke="#7c7c7c" stroke-width="0.5" stroke-linejoin="round">
<path d="M190.0 462.5C190.3 460.7 193.1 456.6 193.8 456.0C194.5 455.4 195.2 455.4 197.2 456.0C199.2 456.6 213.1 460.8 214.2 462.2C215.3 463.6 209.5 468.9 208.5 470.5C207.5 472.1 205.8 478.1 204.0 478.5C202.2 478.9 192.2 475.8 190.8 474.2C189.4 472.6 189.7 464.3 190.0 462.5Z" fill="#969696"/>
<path d="M193.0 458.5C191.7 457.6 194.5 456.6 196.5 457.0C198.5 457.4 211.7 461.9 213.0 462.8C214.3 463.8 212.0 466.9 210.0 466.5C208.0 466.1 194.3 459.4 193.0 458.5Z" fill="#a6a6a6" opacity="0.8"/>
<path d="M204.0 475.5C205.0 472.8 208.3 468.8 210.0 467.0C211.7 465.2 214.2 462.9 217.0 462.2C219.8 461.5 227.9 460.8 231.0 462.0C234.1 463.2 238.6 469.1 240.0 471.5C241.4 473.9 242.1 477.5 241.7 480.0C241.3 482.5 240.1 487.9 237.2 490.2C234.3 492.5 223.6 496.5 220.0 497.2C216.4 497.9 212.3 496.6 210.0 495.2C207.7 493.8 203.3 489.6 202.5 487.0C201.7 484.4 203.0 478.2 204.0 475.5Z" fill="#989898"/>
<path d="M218.0 463.0C218.3 462.0 228.1 461.4 231.0 462.5C233.9 463.6 238.2 469.2 239.5 471.5C240.8 473.8 241.3 477.6 241.0 480.0C240.7 482.4 238.3 487.9 237.0 489.5C235.7 491.1 231.4 493.3 231.0 492.0C230.6 490.7 234.3 482.9 234.0 480.0C233.7 477.1 231.1 472.3 229.0 470.0C226.9 467.7 217.7 464.0 218.0 463.0Z" fill="#8e8e8e" opacity="0.8"/>
<path d="M226.0 461.2L229.0 460.8L229.8 465.0L226.8 465.2Z" fill="#cacaca"/>
<ellipse cx="213.2" cy="486.2" rx="12.6" ry="12.8" transform="rotate(10.0 213.2 486.2)" fill="#a0a0a0"/>
<ellipse cx="212.0" cy="487.0" rx="10.9" ry="11.5" transform="rotate(10.0 212.0 487.0)" fill="#858585"/>
<ellipse cx="211.6" cy="487.2" rx="9.5" ry="10.2" transform="rotate(10.0 211.6 487.2)" fill="#b0b0b0"/>
<path d="M218.2 475.5L220.2 474.8L224.2 483.0L222.2 483.8Z" fill="#dcdcdc"/>
<path d="M231.0 480.0C231.2 478.9 233.6 478.6 234.0 479.5C234.4 480.4 235.2 487.9 235.0 489.0C234.8 490.1 232.4 491.9 232.0 491.0C231.6 490.1 230.8 481.1 231.0 480.0Z" fill="#a8a8a8"/>
</g>
<g filter="url(#soft)" stroke="#7c7c7c" stroke-width="0.5" stroke-linejoin="round">
<path d="M310.0 475.0L335.0 475.0L335.0 495.5L310.0 495.5Z" fill="url(#gConnH)"/>
<path d="M310.0 475.0L311.8 475.0L311.8 495.5L310.0 495.5Z" fill="#9a9a9a" opacity="0.8"/>
<path d="M334.0 472.5C335.0 469.2 339.6 470.9 342.0 470.5C344.4 470.1 349.6 469.5 352.0 469.8C354.4 470.1 358.3 471.6 360.0 473.0C361.7 474.4 364.0 478.1 365.0 480.0C366.0 481.9 367.3 484.8 367.2 487.0C367.1 489.2 365.7 494.2 364.5 496.5C363.3 498.8 360.2 502.7 358.0 504.0C355.8 505.3 350.6 506.5 348.0 506.5C345.4 506.5 340.3 505.5 338.5 504.0C336.7 502.5 335.1 499.2 334.5 495.0C333.9 490.8 333.0 475.8 334.0 472.5Z" fill="#8e8e8e"/>
<path d="M342.0 471.5C344.0 470.9 349.7 470.2 352.0 470.5C354.3 470.8 357.9 472.2 359.5 473.5C361.1 474.8 363.9 478.9 364.0 480.0C364.1 481.1 361.9 482.1 360.0 482.0C358.1 481.9 352.7 479.6 350.0 479.5C347.3 479.4 341.7 481.6 340.0 481.0C338.3 480.4 336.7 476.3 337.0 475.0C337.3 473.7 340.0 472.1 342.0 471.5Z" fill="#9c9c9c" opacity="0.8"/>
<path d="M347.0 467.8L351.2 467.8L351.2 472.2L347.0 472.2Z" fill="#fff"/>
<ellipse cx="348.0" cy="495.8" rx="13.0" ry="11.6" transform="rotate(0.0 348.0 495.8)" fill="#828282"/>
<ellipse cx="348.0" cy="496.2" rx="11.2" ry="10.1" transform="rotate(0.0 348.0 496.2)" fill="#d2d2d2"/>
<ellipse cx="348.0" cy="496.5" rx="9.5" ry="8.6" transform="rotate(0.0 348.0 496.5)" fill="#bcbcbc"/>
</g>
<g filter="url(#soft2)">
<path d="M501.1 35.2C501.4 33.2 502.5 30.8 504.2 29.2C506.0 27.7 509.1 26.4 511.8 26.1C514.4 25.8 517.6 26.4 520.0 27.4C522.4 28.4 524.5 30.3 526.0 32.2C527.5 34.2 528.8 37.0 529.0 39.0C529.2 41.0 528.6 42.8 527.5 44.2C526.4 45.8 524.1 47.2 522.2 48.0C520.4 48.8 518.5 49.1 516.2 48.9C514.0 48.6 511.0 47.8 508.8 46.5C506.5 45.2 504.0 43.1 502.8 41.2C501.5 39.4 500.9 37.2 501.1 35.2ZM506.6 34.9C506.9 33.9 508.1 32.2 509.5 31.5C510.9 30.8 513.0 30.4 514.8 30.6C516.5 30.8 518.4 31.7 520.0 32.6C521.6 33.6 523.3 35.2 524.1 36.4C525.0 37.5 525.4 38.5 525.1 39.4C524.8 40.2 523.5 41.2 522.2 41.6C521.0 42.1 519.4 42.3 517.8 42.1C516.1 42.0 514.1 41.3 512.5 40.5C510.9 39.7 509.0 38.4 508.0 37.5C507.0 36.6 506.4 35.9 506.6 34.9Z" fill="url(#gRing)" fill-rule="evenodd"/>
<path d="M622.2 59.0C622.5 57.2 623.2 55.5 624.5 54.5C625.8 53.5 627.8 52.9 629.8 52.9C631.8 52.9 634.4 53.4 636.5 54.5C638.6 55.6 640.9 57.9 642.5 59.8C644.1 61.6 645.4 63.8 645.9 65.8C646.4 67.8 645.9 70.0 645.5 71.8C645.1 73.5 644.4 75.2 643.2 76.2C642.1 77.3 640.4 77.9 638.8 77.9C637.1 77.9 635.4 77.3 633.5 76.2C631.6 75.2 629.2 73.6 627.5 71.8C625.8 69.9 623.9 67.1 623.0 65.0C622.1 62.9 622.0 60.8 622.2 59.0ZM629.2 57.9C629.4 57.0 630.5 56.7 631.5 56.8C632.5 56.8 634.0 57.2 635.2 58.2C636.5 59.2 638.0 61.1 639.0 62.8C640.0 64.4 640.9 66.6 641.2 68.0C641.6 69.4 641.6 71.0 641.1 71.4C640.6 71.8 639.4 71.1 638.2 70.2C637.0 69.4 635.0 67.9 633.7 66.5C632.4 65.1 631.1 63.4 630.3 62.0C629.6 60.6 629.0 58.8 629.2 57.9Z" fill="url(#gRing)" fill-rule="evenodd"/>
<path d="M721.0 131.5C721.1 129.9 721.6 128.7 722.5 127.8C723.4 126.8 724.6 126.2 726.2 126.1C727.9 126.0 730.4 126.2 732.2 127.4C734.1 128.5 736.1 131.1 737.5 133.0C738.9 134.9 740.1 137.0 740.9 139.0C741.6 141.0 742.0 143.1 741.9 145.0C741.7 146.9 740.9 149.0 739.8 150.2C738.6 151.5 736.9 152.7 735.2 152.7C733.6 152.7 731.8 151.7 730.0 150.2C728.2 148.8 726.1 146.4 724.8 144.2C723.4 142.1 722.4 139.6 721.8 137.5C721.1 135.4 720.9 133.1 721.0 131.5ZM728.5 131.9C728.6 131.1 729.3 130.8 730.0 131.1C730.7 131.5 731.7 132.7 732.6 134.1C733.6 135.6 734.9 137.9 735.6 139.8C736.4 141.6 737.1 144.4 737.1 145.4C737.1 146.3 736.5 146.1 735.6 145.4C734.8 144.7 733.0 142.8 731.9 141.2C730.8 139.7 729.8 137.6 729.3 136.0C728.7 134.4 728.4 132.7 728.5 131.9Z" fill="url(#gRing)" fill-rule="evenodd"/>
<path d="M729.0 229.5C729.3 228.8 731.1 228.9 732.0 229.1C732.9 229.3 735.7 230.5 736.5 231.4C737.3 232.3 738.3 235.2 738.8 237.0C739.2 238.8 740.4 245.0 740.6 246.8C740.9 248.5 741.3 251.0 741.0 252.0C740.7 253.0 738.7 254.8 738.0 255.4C737.3 255.9 735.6 256.9 735.0 256.6C734.4 256.4 733.3 254.9 732.8 253.5C732.2 252.1 730.9 246.6 730.5 244.5C730.1 242.4 729.5 237.2 729.4 235.5C729.2 233.8 728.7 230.2 729.0 229.5Z" fill="url(#gRingS)"/>
<path d="M90.9 297.4C91.7 297.0 94.1 295.9 94.6 296.4C95.2 296.9 95.6 299.9 95.8 301.5C95.9 303.1 95.8 308.4 95.6 310.5C95.4 312.6 94.6 317.8 94.2 319.5C93.9 321.2 92.9 324.3 92.4 324.8C91.8 325.2 89.8 323.6 89.4 323.2C89.0 322.9 89.4 321.7 89.0 321.4C88.6 321.0 86.5 321.3 86.2 320.2C85.8 319.2 85.8 314.8 85.8 312.8C85.9 310.7 86.5 304.6 86.8 303.0C87.0 301.4 87.4 299.9 87.9 299.2C88.4 298.6 90.1 297.7 90.9 297.4Z" fill="url(#gRingS)"/>
<path d="M81.1 416.8C81.2 415.1 81.6 412.5 82.2 410.8C82.9 409.0 83.9 407.2 85.2 406.2C86.6 405.2 88.8 404.5 90.5 404.8C92.2 405.0 94.2 406.2 95.8 407.8C97.2 409.2 98.5 411.6 99.5 413.8C100.5 415.9 101.3 418.2 101.6 420.5C101.8 422.8 101.6 425.5 101.0 427.2C100.4 429.0 99.1 430.2 98.0 431.0C96.9 431.8 95.6 432.4 94.2 432.1C92.9 431.9 91.4 430.8 89.8 429.5C88.1 428.2 85.8 425.8 84.5 424.2C83.2 422.8 82.4 421.8 81.9 420.5C81.3 419.2 81.1 418.4 81.1 416.8ZM87.3 413.0C87.4 411.8 87.9 410.9 88.5 410.8C89.0 410.6 90.0 411.0 90.7 411.9C91.5 412.8 92.3 414.4 93.0 416.0C93.6 417.6 94.4 419.6 94.6 421.2C94.9 422.9 94.8 424.8 94.5 425.8C94.1 426.7 93.3 427.2 92.6 426.9C91.8 426.5 90.7 424.9 90.0 423.5C89.2 422.1 88.5 420.0 88.1 418.2C87.6 416.5 87.3 414.2 87.3 413.0Z" fill="url(#gRing)" fill-rule="evenodd"/>
<path d="M169.1 501.5C169.3 499.9 169.7 497.2 170.6 495.5C171.6 493.8 173.2 492.2 174.8 491.4C176.3 490.5 178.1 490.0 180.0 490.2C181.9 490.5 184.1 491.4 186.0 492.9C187.9 494.4 190.0 497.1 191.2 499.2C192.5 501.4 193.4 503.9 193.7 506.0C193.9 508.1 193.5 510.4 192.8 512.0C192.0 513.6 190.4 515.0 189.0 515.8C187.6 516.5 186.2 516.9 184.5 516.6C182.8 516.4 180.5 515.4 178.5 514.2C176.5 513.1 174.0 511.2 172.5 509.8C171.0 508.2 170.2 506.6 169.7 505.2C169.1 503.9 169.0 503.1 169.1 501.5ZM174.1 500.1C174.3 498.9 174.7 497.4 175.6 496.8C176.5 496.2 178.0 496.0 179.3 496.4C180.5 496.8 181.8 498.0 182.9 499.4C184.0 500.7 185.3 502.8 185.9 504.5C186.5 506.2 186.7 508.3 186.6 509.6C186.5 511.0 186.0 512.2 185.2 512.6C184.3 512.9 182.8 512.6 181.5 511.8C180.1 511.1 178.2 509.5 177.1 508.2C175.9 506.8 175.0 505.1 174.5 503.8C174.0 502.4 173.9 501.2 174.1 500.1Z" fill="url(#gRing)" fill-rule="evenodd"/>
<path d="M331.5 529.2a14.25 12.2 0 1 0 28.5 0a14.25 12.2 0 1 0 -28.5 0ZM335.9 530.4a9.75 7.5 0 1 0 19.5 0a9.75 7.5 0 1 0 -19.5 0Z" fill="url(#gRing)" fill-rule="evenodd"/>
</g>
</g>
<g class="lead" filter="url(#softL)">
<line x1="375.8" y1="47.3" x2="375.8" y2="72.8"/>
<line x1="411.8" y1="114.5" x2="510.6" y2="152.9"/>
<circle cx="510.6" cy="152.9" r="2.4"/>
<line x1="464.5" y1="34.8" x2="499.8" y2="34.8"/>
<line x1="464.5" y1="77.2" x2="484.3" y2="77.2"/>
<line x1="509.5" y1="98.8" x2="520.9" y2="146.9"/>
<circle cx="520.9" cy="146.9" r="2.4"/>
<line x1="605.0" y1="47.3" x2="605.0" y2="71.0"/>
<line x1="632.3" y1="32.0" x2="632.3" y2="50.0"/>
<line x1="583.5" y1="108.8" x2="559.4" y2="154.8"/>
<circle cx="559.4" cy="154.8" r="2.4"/>
<line x1="684.7" y1="120.0" x2="684.7" y2="143.8"/>
<line x1="730.0" y1="105.2" x2="730.0" y2="125.0"/>
<line x1="668.5" y1="167.5" x2="614.8" y2="188.8"/>
<circle cx="614.8" cy="188.8" r="2.4"/>
<line x1="698.3" y1="209.2" x2="698.3" y2="233.2"/>
<line x1="733.0" y1="209.2" x2="733.0" y2="228.8"/>
<line x1="677.8" y1="246.3" x2="618.0" y2="225.0"/>
<circle cx="618.0" cy="225.0" r="2.4"/>
<line x1="93.3" y1="279.0" x2="93.3" y2="295.0"/>
<line x1="135.0" y1="279.0" x2="135.0" y2="298.0"/>
<line x1="150.0" y1="329.5" x2="191.2" y2="356.9"/>
<circle cx="191.2" cy="356.9" r="2.4"/>
<line x1="135.3" y1="370.8" x2="135.3" y2="389.7"/>
<line x1="91.5" y1="387.5" x2="91.5" y2="403.8"/>
<line x1="156.0" y1="396.8" x2="200.2" y2="374.1"/>
<circle cx="200.2" cy="374.1" r="2.4"/>
<line x1="213.3" y1="442.8" x2="213.3" y2="461.2"/>
<line x1="179.5" y1="472.2" x2="179.5" y2="488.2"/>
<line x1="230.5" y1="459.8" x2="261.5" y2="411.2"/>
<circle cx="261.5" cy="411.2" r="2.4"/>
<line x1="367.2" y1="487.8" x2="385.5" y2="487.8"/>
<line x1="360.2" y1="528.2" x2="385.5" y2="528.2"/>
<line x1="337.0" y1="469.0" x2="311.3" y2="429.8"/>
<circle cx="311.3" cy="429.8" r="2.4"/>

</g>
<g class="num" filter="url(#softT)">
<text transform="translate(376.6 44.2) scale(1.07 0.93)" clip-path="url(#c1)" style="stroke-width:0.75px">1</text>
<text transform="translate(459.2 41.7) scale(1.07 1)">6</text>
<text transform="translate(459.2 84.0) scale(1.07 1)">5</text>
<text transform="translate(605.2 44.8) scale(1.07 1)">5</text>
<text transform="translate(632.6 29.0) scale(1.07 1)">6</text>
<text transform="translate(685.0 117.5) scale(1.07 1)">5</text>
<text transform="translate(729.9 102.5) scale(1.07 1)">6</text>
<text transform="translate(698.4 206.2) scale(1.07 1)">5</text>
<text transform="translate(733.1 206.2) scale(1.07 1)">6</text>
<text transform="translate(93.2 275.8) scale(1.07 1)">6</text>
<text transform="translate(135.2 275.8) scale(1.07 1)">2</text>
<text transform="translate(135.5 368.0) scale(1.07 1)">4</text>
<text transform="translate(91.4 384.8) scale(1.07 1)">6</text>
<text transform="translate(213.3 439.9) scale(1.07 1)">3</text>
<text transform="translate(179.9 469.2) scale(1.07 1)">6</text>
<text transform="translate(391.1 494.2) scale(1.07 1)">2</text>
<text transform="translate(391.1 534.5) scale(1.07 1)">6</text>
</g>
<g class="ref">
<rect x="721.4" y="490.3" width="70.2" height="48.3" fill="#fff" stroke="#555" stroke-width="0.9"/>
<path d="M727.6 527.9H765.7V534H727.6Z" fill="#000"/>
<path d="M786.9 505.4V511.7L764.5 526.6L757.1 522.6Z" fill="#000"/>
<path d="M727.6 506.4L737.1 512.1L767.6 494.3L786.9 505.4L757.1 522.6L765.7 527.9H727.6Z" fill="#fff" stroke="#000" stroke-width="1.1" stroke-linejoin="miter"/>
<text class="code" x="760" y="553">488900</text>
</g>
</svg>
</body>
</html>
